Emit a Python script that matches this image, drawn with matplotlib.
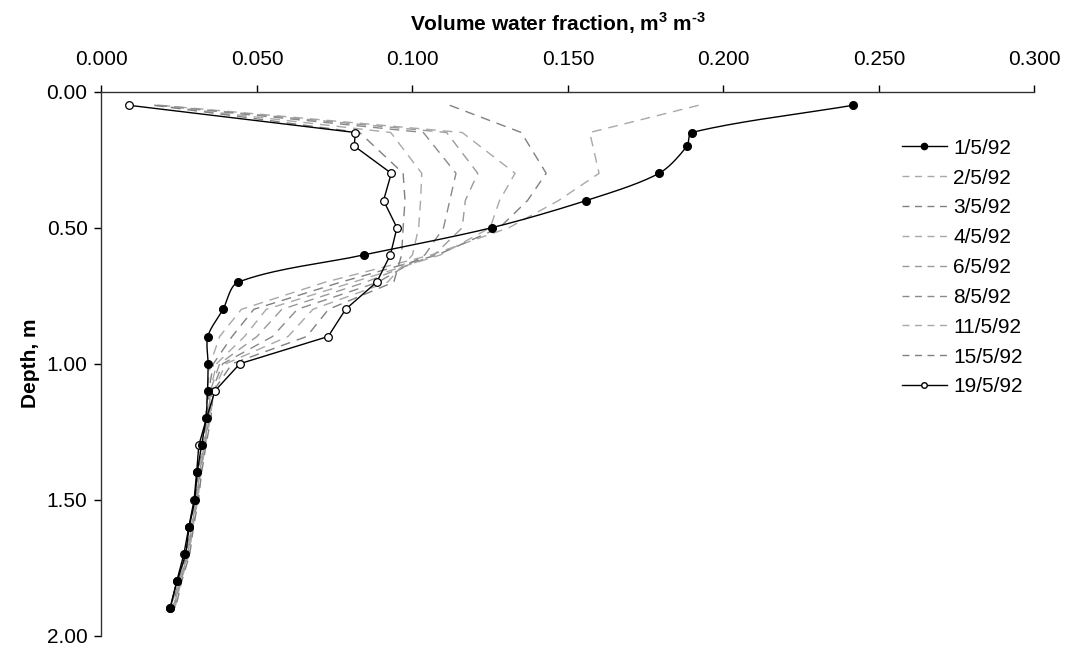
import numpy as np
import matplotlib
matplotlib.use("Agg")
import matplotlib.pyplot as plt
from matplotlib.lines import Line2D

plt.rcParams['font.family'] = ['Liberation Sans', 'DejaVu Sans']

# === Data ===
depth_full = [0.05, 0.15, 0.2, 0.3, 0.4, 0.5, 0.6, 0.7, 0.8, 0.9, 1.0,
              1.1, 1.2, 1.3, 1.4, 1.5, 1.6, 1.7, 1.8, 1.9]
depth_dash = [0.05, 0.15, 0.3, 0.4, 0.5, 0.6, 0.7, 0.8, 0.9, 1.0,
              1.1, 1.2, 1.3, 1.4, 1.5, 1.6, 1.7, 1.8, 1.9]

d_0105 = [0.2416, 0.1898, 0.1883, 0.1793, 0.1559, 0.1255, 0.0845, 0.0440,
          0.0391, 0.0342, 0.0343, 0.0341, 0.0336, 0.0322, 0.0308, 0.0300,
          0.0282, 0.0270, 0.0243, 0.0220]
d_1905 = [0.0089, 0.0816, 0.0813, 0.0932, 0.0907, 0.0950, 0.0929, 0.0885,
          0.0785, 0.0729, 0.0445, 0.0365, 0.0338, 0.0313, 0.0306, 0.0298,
          0.0281, 0.0265, 0.0242, 0.0221]

d_0205 = [0.192, 0.157, 0.160, 0.147, 0.131, 0.106, 0.072, 0.045, 0.038, 0.035,
          0.034, 0.0335, 0.032, 0.031, 0.030, 0.0283, 0.0272, 0.0245, 0.0225]
d_0305 = [0.112, 0.135, 0.143, 0.137, 0.128, 0.108, 0.077, 0.049, 0.042, 0.036,
          0.0345, 0.034, 0.0325, 0.0312, 0.0302, 0.0286, 0.0274, 0.0248, 0.0228]
d_0405 = [0.019, 0.116, 0.133, 0.128, 0.125, 0.109, 0.081, 0.053, 0.046, 0.037,
          0.035, 0.0342, 0.0327, 0.0314, 0.0304, 0.0288, 0.0276, 0.0250, 0.0230]
d_0605 = [0.018, 0.111, 0.121, 0.117, 0.116, 0.107, 0.085, 0.058, 0.050, 0.038,
          0.035, 0.0345, 0.0330, 0.0316, 0.0306, 0.0290, 0.0278, 0.0252, 0.0232]
d_0805 = [0.018, 0.1035, 0.114, 0.112, 0.110, 0.104, 0.089, 0.063, 0.055, 0.039,
          0.0355, 0.0347, 0.0332, 0.0318, 0.0308, 0.0292, 0.0280, 0.0254, 0.0234]
d_1105 = [0.017, 0.093, 0.103, 0.1026, 0.102, 0.100, 0.092, 0.068, 0.060, 0.040,
          0.036, 0.0350, 0.0334, 0.0320, 0.0310, 0.0294, 0.0282, 0.0256, 0.0236]
d_1505 = [0.017, 0.083, 0.097, 0.0976, 0.097, 0.0965, 0.094, 0.073, 0.066, 0.042,
          0.036, 0.0352, 0.0336, 0.0322, 0.0312, 0.0296, 0.0284, 0.0258, 0.0238]

dash_labels = ["2/5/92", "3/5/92", "4/5/92", "6/5/92", "8/5/92", "11/5/92", "15/5/92"]
dash_series = [d_0205, d_0305, d_0405, d_0605, d_0805, d_1105, d_1505]
dash_colors = ["#a8a8a8", "#808080", "#a8a8a8", "#9a9a9a", "#8a8a8a", "#a8a8a8", "#808080"]

x_ticks = [0.0, 0.05, 0.10, 0.15, 0.20, 0.25, 0.30]
y_ticks = [0.0, 0.5, 1.0, 1.5, 2.0]

FS = 15


def smooth(x, y, n=30, s=0.3, sx=3110.0, sy=272.0):
    # Bezier smoothing with chord-scaled tangents (spreadsheet style)
    P = np.column_stack([np.asarray(x) * sx, np.asarray(y) * sy])
    m = len(P)
    T = np.zeros_like(P)
    for i in range(m):
        a = P[max(i - 1, 0)]
        b = P[min(i + 1, m - 1)]
        d = b - a
        T[i] = d / np.hypot(*d)
    t = np.linspace(0, 1, n, endpoint=False)[:, None]
    out = []
    for i in range(m - 1):
        p0, p3 = P[i], P[i + 1]
        L = np.hypot(*(p3 - p0))
        p1 = p0 + T[i] * L * s
        p2 = p3 - T[i + 1] * L * s
        seg = ((1 - t) ** 3 * p0 + 3 * (1 - t) ** 2 * t * p1 +
               3 * (1 - t) * t ** 2 * p2 + t ** 3 * p3)
        out.append(seg)
    out.append(P[-1][None, :])
    out = np.vstack(out)
    return out[:, 0] / sx, out[:, 1] / sy


fig = plt.figure(figsize=(10.68, 6.49), dpi=100)
ax = fig.add_axes([0.095, 0.0205, 0.8736, 0.8382])

handles = []
for vals, lab, col in zip(dash_series, dash_labels, dash_colors):
    ax.plot(vals, depth_dash, color=col, lw=1.0, dashes=(7, 5), zorder=2)
    handles.append(Line2D([], [], color=col, lw=1.0, dashes=(5, 4), label=lab))

sx, sy = smooth(d_0105, depth_full)
ax.plot(sx, sy, color="black", lw=1.0, zorder=3)
ax.plot(d_0105, depth_full, ls="none", marker="o", ms=5.5, mfc="black",
        mec="black", zorder=4)
ax.plot(d_1905, depth_full, color="black", lw=1.0, marker="o", ms=5.5,
        mfc="white", mec="black", mew=0.9, zorder=3)

h1 = Line2D([], [], color="black", lw=1.0, marker="o", ms=4.5, mfc="black",
            mec="black", label="1/5/92")
h19 = Line2D([], [], color="black", lw=1.0, marker="o", ms=4, mfc="white",
             mec="black", label="19/5/92")
handles = [h1] + handles + [h19]

ax.set_xlim(0, 0.3)
ax.set_ylim(2.0, 0.0)
ax.set_xticks(x_ticks)
ax.set_xticklabels([f"{v:.3f}" for v in x_ticks])
ax.set_yticks(y_ticks)
ax.set_yticklabels([f"{v:.2f}" for v in y_ticks])
ax.xaxis.tick_top()
ax.tick_params(axis="both", direction="out", length=5, width=1,
               labelsize=FS, colors="black")
ax.tick_params(axis="x", pad=11)
ax.tick_params(axis="y", pad=5)
for s in ["right", "bottom"]:
    ax.spines[s].set_visible(False)
for s in ["left", "top"]:
    ax.spines[s].set_linewidth(1.0)
    ax.spines[s].set_color("#333333")

ax.set_xlabel("Volume water fraction, m$^\\mathregular{3}$ m$^\\mathregular{\u20103}$",
              fontsize=FS, fontweight="bold")
ax.xaxis.set_label_position("top")
ax.xaxis.set_label_coords(0.489, 1.112)
ax.set_ylabel("Depth, m", fontsize=FS, fontweight="bold")
ax.yaxis.set_label_coords(-0.066, 0.5)

leg = ax.legend(handles=handles, loc="upper left", bbox_to_anchor=(0.8368, 0.799),
                bbox_transform=fig.transFigure, frameon=False, fontsize=FS,
                handlelength=2.15, labelspacing=0.52, handletextpad=0.3,
                borderaxespad=0)

fig.savefig("out.png", dpi=100)
